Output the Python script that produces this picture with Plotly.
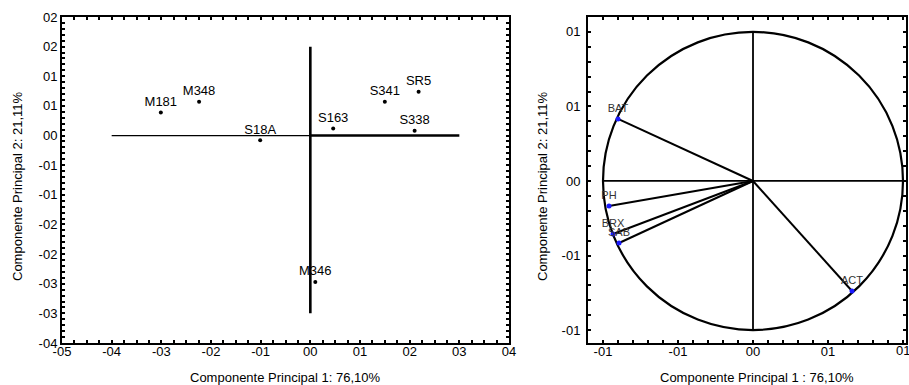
import plotly.graph_objects as go

# ---- Left panel: scores ----
sample_names = ["M181", "M348", "S18A", "S163", "S341", "SR5", "S338", "M346"]
pc1_scores = [-0.301, -0.224, -0.101, 0.046, 0.150, 0.218, 0.210, 0.010]
pc2_scores = [0.039, 0.057, -0.008, 0.012, 0.057, 0.074, 0.008, -0.247]

left_xtick_vals = [-0.5, -0.4, -0.3, -0.2, -0.1, 0.0, 0.1, 0.2, 0.3, 0.4]
left_xtick_text = ["-05", "-04", "-03", "-02", "-01", "00", "01", "02", "03", "04"]
left_ytick_vals = [0.2, 0.15, 0.1, 0.05, 0.0, -0.05, -0.1, -0.15, -0.2, -0.25, -0.3, -0.35]
left_ytick_text = ["02", "02", "01", "01", "00", "-01", "-01", "-02", "-02", "-03", "-03", "-04"]

# reference axes drawn in the score plot
h_axis_neg_x = [-0.4, 0.0]
h_axis_pos_x = [0.0, 0.3]
v_axis_y = [-0.3, 0.15]

# ---- Right panel: loadings ----
var_names = ["BAT", "PH", "BRX", "SAB", "ACT"]
load_pc1 = [-0.90, -0.96, -0.933, -0.893, 0.66]
load_pc2 = [0.416, -0.168, -0.356, -0.416, -0.738]

right_tick_vals = [-1.0, -0.5, 0.0, 0.5, 1.0]
right_tick_text = ["-01", "-01", "00", "01", "01"]

x_title_left = "Componente Principal 1: 76,10%"
x_title_right = "Componente Principal 1 : 76,10%"
y_title = "Componente Principal 2: 21,11%"

FONT = "Liberation Sans, Arial, sans-serif"
W, H = 909, 385
T, B = 17, 42
PH_ = H - T - B

fig = go.Figure()

# left cross lines
fig.add_trace(go.Scatter(x=h_axis_neg_x, y=[0, 0], mode="lines",
                         line=dict(color="black", width=1.3), xaxis="x", yaxis="y", showlegend=False))
fig.add_trace(go.Scatter(x=h_axis_pos_x, y=[0, 0], mode="lines",
                         line=dict(color="black", width=2.6), xaxis="x", yaxis="y", showlegend=False))
fig.add_trace(go.Scatter(x=[0, 0], y=v_axis_y, mode="lines",
                         line=dict(color="black", width=2.6), xaxis="x", yaxis="y", showlegend=False))
# scores
fig.add_trace(go.Scatter(x=pc1_scores, y=pc2_scores, mode="markers+text",
                         text=sample_names, textposition="top center",
                         textfont=dict(family=FONT, size=13, color="black"),
                         marker=dict(color="black", size=4),
                         xaxis="x", yaxis="y", showlegend=False))

# right axes lines inside circle
fig.add_trace(go.Scatter(x=[-1, 1], y=[0, 0], mode="lines",
                         line=dict(color="black", width=1.8), xaxis="x2", yaxis="y2", showlegend=False))
fig.add_trace(go.Scatter(x=[0, 0], y=[-1, 1], mode="lines",
                         line=dict(color="black", width=1.8), xaxis="x2", yaxis="y2", showlegend=False))
# vectors
for name, lx, ly in zip(var_names, load_pc1, load_pc2):
    fig.add_trace(go.Scatter(x=[0, lx], y=[0, ly], mode="lines",
                             line=dict(color="black", width=2), xaxis="x2", yaxis="y2",
                             showlegend=False))
fig.add_trace(go.Scatter(x=load_pc1, y=load_pc2, mode="markers+text",
                         text=var_names, textposition="top center",
                         textfont=dict(family=FONT, size=11, color="#333333"),
                         marker=dict(color="#1a1aff", size=5),
                         xaxis="x2", yaxis="y2", showlegend=False))

fig.add_shape(type="circle", xref="x2", yref="y2", x0=-1, y0=-1, x1=1, y1=1,
              line=dict(color="black", width=2.2), layer="below")

axis_common = dict(showgrid=False, zeroline=False, showline=True, linecolor="black",
                   linewidth=2, mirror="ticks", ticks="inside", ticklen=3, tickwidth=1.5,
                   tickcolor="black", tickfont=dict(family=FONT, size=13, color="black"),
                   automargin=False)


def py(p):
    return (H - B - p) / PH_


title_font = dict(family=FONT, size=13, color="black")
annotations = [
    dict(text=x_title_left, x=285 / W, y=py(377), xref="paper", yref="paper",
         showarrow=False, xanchor="center", yanchor="middle", font=title_font),
    dict(text=x_title_right, x=757 / W, y=py(377), xref="paper", yref="paper",
         showarrow=False, xanchor="center", yanchor="middle", font=title_font),
    dict(text=y_title, x=17 / W, y=py(186), xref="paper", yref="paper", textangle=-90,
         showarrow=False, xanchor="center", yanchor="middle", font=title_font),
    dict(text=y_title, x=542 / W, y=py(186), xref="paper", yref="paper", textangle=-90,
         showarrow=False, xanchor="center", yanchor="middle", font=title_font),
    # last tick label of the right panel sits at the image edge (partially cut in the reference)
    dict(text=right_tick_text[-1], x=right_tick_vals[-1], y=py(350), xref="x2", yref="paper",
         showarrow=False, xanchor="center", yanchor="middle",
         font=dict(family=FONT, size=13, color="black")),
]

fig.update_layout(
    width=W, height=H,
    margin=dict(l=0, r=0, t=T, b=B, autoexpand=False),
    paper_bgcolor="white", plot_bgcolor="white",
    font=dict(family=FONT, color="black"),
    annotations=annotations,
    xaxis=dict(domain=[62 / W, 509 / W], range=[-0.5, 0.4],
               tickmode="array", tickvals=left_xtick_vals, ticktext=left_xtick_text,
               minor=dict(dtick=0.025, ticks="inside", ticklen=3, tickcolor="black"),
               ticklabelstandoff=-5, anchor="y", **axis_common),
    yaxis=dict(domain=[0, 1], range=[-0.35, 0.2],
               tickmode="array", tickvals=left_ytick_vals, ticktext=left_ytick_text,
               minor=dict(dtick=0.01, ticks="inside", ticklen=3, tickcolor="black"),
               ticklabelstandoff=0, anchor="x", **axis_common),
    xaxis2=dict(domain=[588 / W, 906 / W], range=[-1.1, 1.02],
                tickmode="array", tickvals=right_tick_vals, ticktext=right_tick_text,
                minor=dict(dtick=0.1, ticks="inside", ticklen=3, tickcolor="black"),
                ticklabelstandoff=-5, anchor="y2", **axis_common),
    yaxis2=dict(domain=[0, 1], range=[-1.087, 1.1],
                tickmode="array", tickvals=right_tick_vals, ticktext=right_tick_text,
                minor=dict(dtick=0.1, ticks="inside", ticklen=3, tickcolor="black"),
                ticklabelstandoff=3, anchor="x2", **axis_common),
)

fig.write_html("out.html", config={"displayModeBar": False},
               post_script="document.body.style.margin='0';document.body.style.overflow='hidden';")
